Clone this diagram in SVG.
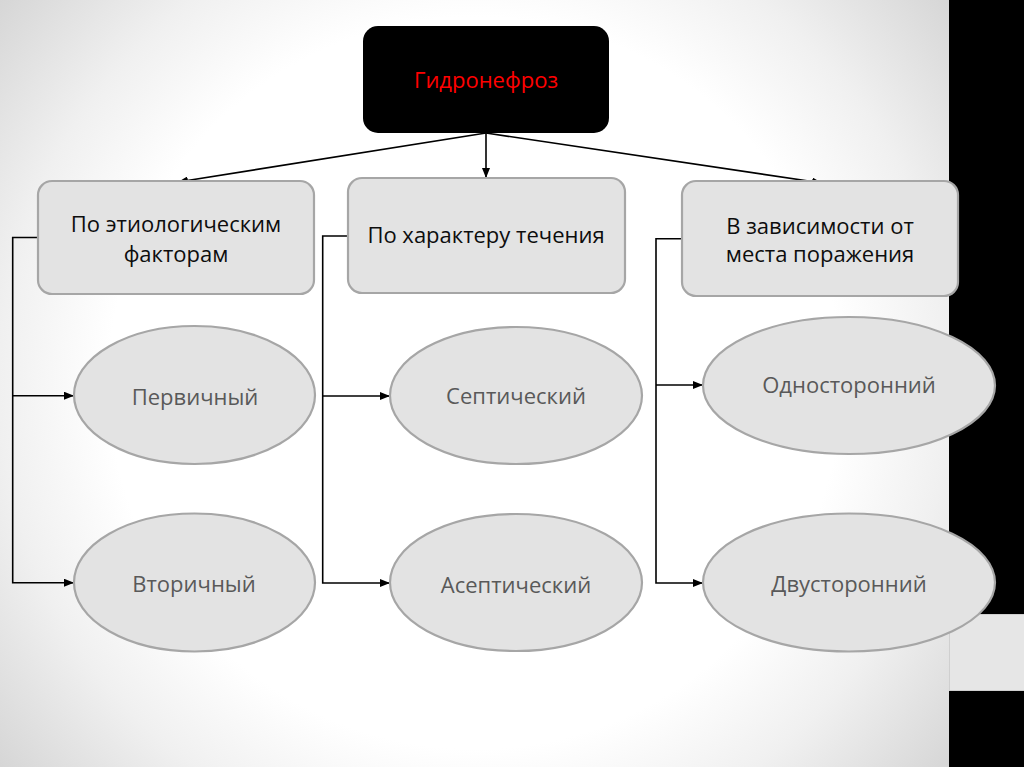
<svg xmlns="http://www.w3.org/2000/svg" width="1024" height="767" viewBox="0 0 1024 767">
  <style>
    .box { fill: #e3e3e3; stroke: #a6a6a6; stroke-width: 2.2; }
    .oval { fill: #e3e3e3; stroke: #a6a6a6; stroke-width: 2.2; }
    .t { font-family: "Open Sans", "Liberation Sans", sans-serif; font-size: 22px; text-anchor: middle; }
    .bt { fill: #0d0d0d; }
    .ot { fill: #595959; }
    .conn { fill: none; stroke: #000; stroke-width: 1.6; }
  </style>
  <defs>
    <radialGradient id="bg" gradientUnits="userSpaceOnUse" cx="475" cy="383" r="610">
      <stop offset="0" stop-color="#ffffff"/>
      <stop offset="0.6" stop-color="#ffffff"/>
      <stop offset="0.78" stop-color="#f0f0f0"/>
      <stop offset="1" stop-color="#d6d6d6"/>
    </radialGradient>
    <marker id="ah" viewBox="0 0 10 8" refX="10" refY="4" markerWidth="10" markerHeight="8" markerUnits="userSpaceOnUse" orient="auto">
      <path d="M0,0 L10,4 L0,8 Z" fill="#000"/>
    </marker>
  </defs>

  <g id="background">
    <rect x="0" y="0" width="1024" height="767" fill="url(#bg)"/>
    <rect x="949" y="0" width="75" height="767" fill="#000"/>
    <rect x="949.5" y="614.5" width="75" height="76" fill="#e6e6e6" stroke="#cfcfcf" stroke-width="1"/>
  </g>

  <g id="connectors">
    <line class="conn" x1="486" y1="133" x2="178" y2="182" marker-end="url(#ah)"/>
    <line class="conn" x1="486" y1="133" x2="486" y2="178" marker-end="url(#ah)"/>
    <line class="conn" x1="486" y1="133" x2="822" y2="183" marker-end="url(#ah)"/>
    <path class="conn" d="M38,237.5 H12.7 V582.7 H74" marker-end="url(#ah)"/>
    <path class="conn" d="M12.7,395.7 H74" marker-end="url(#ah)"/>
    <path class="conn" d="M348,236 H322.7 V583 H390" marker-end="url(#ah)"/>
    <path class="conn" d="M322.7,396 H390" marker-end="url(#ah)"/>
    <path class="conn" d="M682,238.7 H656 V583 H703" marker-end="url(#ah)"/>
    <path class="conn" d="M656,385 H703" marker-end="url(#ah)"/>
  </g>

  <g id="root">
    <rect x="363" y="26" width="246" height="107" rx="15" ry="15" fill="#000"/>
    <text class="t" x="486" y="88" fill="#ff0000">Гидронефроз</text>
  </g>

  <g id="etiology">
    <rect class="box" x="38" y="181" width="276" height="113" rx="14" ry="14"/>
    <text class="t bt" x="176" y="232">По этиологическим</text>
    <text class="t bt" x="176" y="262">факторам</text>
  </g>

  <g id="course">
    <rect class="box" x="348" y="178" width="277" height="115" rx="14" ry="14"/>
    <text class="t bt" x="486" y="243">По характеру течения</text>
  </g>

  <g id="location">
    <rect class="box" x="682" y="181" width="276" height="115" rx="14" ry="14"/>
    <text class="t bt" x="820" y="234">В зависимости от</text>
    <text class="t bt" x="820" y="262">места поражения</text>
  </g>

  <g id="primary">
    <ellipse class="oval" cx="194.5" cy="395" rx="120.5" ry="69"/>
    <text class="t ot" x="195" y="405">Первичный</text>
  </g>

  <g id="secondary">
    <ellipse class="oval" cx="194.5" cy="582.5" rx="120.5" ry="69"/>
    <text class="t ot" x="194" y="592">Вторичный</text>
  </g>

  <g id="septic">
    <ellipse class="oval" cx="516" cy="395.5" rx="126" ry="68.5"/>
    <text class="t ot" x="516" y="404">Септический</text>
  </g>

  <g id="aseptic">
    <ellipse class="oval" cx="516" cy="582.5" rx="126" ry="68.5"/>
    <text class="t ot" x="516" y="593">Асептический</text>
  </g>

  <g id="unilateral">
    <ellipse class="oval" cx="849" cy="385.5" rx="146" ry="68.5"/>
    <text class="t ot" x="849" y="393">Односторонний</text>
  </g>

  <g id="bilateral">
    <ellipse class="oval" cx="849" cy="582.5" rx="146" ry="69"/>
    <text class="t ot" x="849" y="592">Двусторонний</text>
  </g>
</svg>
